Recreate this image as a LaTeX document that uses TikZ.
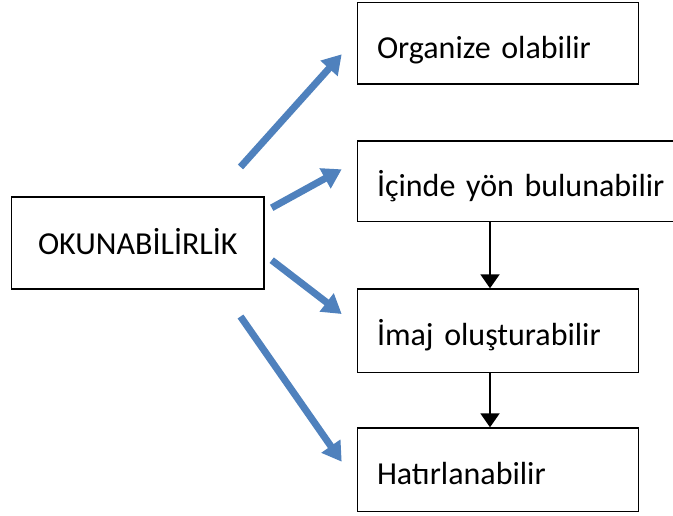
\documentclass[tikz,border=0pt]{standalone}
\usepackage{fontspec}
\setmainfont{Carlito}
\usetikzlibrary{arrows.meta}
\definecolor{accentblue}{HTML}{4F81BD}
\begin{document}
\begin{tikzpicture}[x=1pt,y=-1pt,
  boxbase/.style={draw=black, line width=1.6pt, inner ysep=0pt, text depth=0pt,
    font=\fontsize{32}{38}\selectfont},
  mainbox/.style={boxbase, anchor=north west, minimum width=252.6pt,
    minimum height=91.6pt, inner xsep=0pt, text height=23pt},
  stepbox/.style={boxbase, anchor=north west, inner xsep=19.5pt, align=left,
    text width=#1, text height=30pt},
  stepbox/.default=242pt,
  fanout/.style={draw=accentblue, line width=7pt,
    -{Triangle[length=19pt,width=22pt]}},
  flow/.style={draw=black, line width=2pt,
    -{Triangle[length=14pt,width=19pt]}}
]
  \clip (0,0) rectangle (673,515);

  % central concept
  \node[mainbox] (oku) at (10.7,196.4) {OKUNABİLİRLİK};

  % outcome boxes on the right
  \node[stepbox, minimum height=81.3pt] (org) at (356.7,1.7) {Organize olabilir};
  \node[stepbox=290pt, minimum height=80.7pt] (yon) at (356.7,140) {İçinde yön bulunabilir};
  \node[stepbox, minimum height=83.4pt] (imaj) at (356.7,288.3) {İmaj oluşturabilir};
  \node[stepbox, minimum height=83.4pt] (hat) at (356.7,427.3) {Hatırlanabilir};

  % end points of the fan-out arrows
  \coordinate (t1) at (240.5,167);
  \coordinate (h1) at (341.7,54.3);
  \coordinate (t2) at (271.7,207.8);
  \coordinate (h2) at (341.7,169.3);
  \coordinate (t3) at (271.7,260.2);
  \coordinate (h3) at (341.7,314);
  \coordinate (t4) at (240.5,316.5);
  \coordinate (h4) at (341.7,461.7);

  \draw[fanout] (t1) -- (h1);
  \draw[fanout] (t2) -- (h2);
  \draw[fanout] (t3) -- (h3);
  \draw[fanout] (t4) -- (h4);

  % vertical chain between the lower boxes
  \coordinate (spine) at (490,0);
  \draw[flow] (yon.south -| spine) -- (imaj.north -| spine);
  \draw[flow] (imaj.south -| spine) -- (hat.north -| spine);
\end{tikzpicture}
\end{document}
